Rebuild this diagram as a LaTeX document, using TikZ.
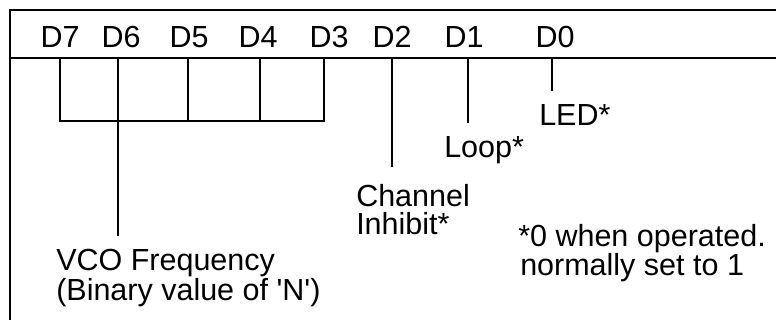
\documentclass[tikz,border=0pt]{standalone}
\usepackage{fontspec}
\setmainfont{Liberation Sans}

\begin{document}
\begin{tikzpicture}[x=1pt, y=-1pt, line width=2.5pt,
  every node/.style={inner sep=0pt, font=\fontsize{30.5}{29}\selectfont},
  bitlabel/.style={anchor=base},
  fieldlabel/.style={anchor=base west, align=left},
  lead/.style={shorten >=#1},
  lead/.default=12pt]
  \useasboundingbox (0,0) rectangle (776,320);
  % frame, open to the right and at the bottom
  \coordinate (frame top left) at (10,10);
  \coordinate (frame top right) at (776,10);
  \coordinate (frame bottom left) at (10,320);
  \coordinate (rule left) at (10,58);
  \coordinate (rule right) at (776,58);
  \draw (frame top right) -- (frame top left) -- (frame bottom left);
  \draw (rule left) -- (rule right);

  % bit names and their taps on the rule
  \foreach \bit/\lx/\tx in {7/60/60, 6/121/118, 5/189/188, 4/258/260,
                            3/329/324, 2/392/392, 1/464/468, 0/555/552} {
    \node[bitlabel] (d\bit) at (\lx,48) {D\bit};
    \coordinate (t\bit) at (\tx,58);
  }

  % D7..D3 joined together
  \coordinate (bracket) at (0,121);
  \draw (t7) -- (t7 |- bracket) -- (t3 |- bracket) -- (t3);
  \foreach \bit in {5,4}
    \draw (t\bit) -- (t\bit |- bracket);

  % what the bits mean (base is the last line)
  \node[fieldlabel] (vco) at (55,300)
    {VCO Frequency\\(Binary value of \textquotesingle N\textquotesingle)};
  \node[fieldlabel, font=\fontsize{30.5}{28}\selectfont] (inhibit) at (355,235) {Channel\\Inhibit*};
  \node[fieldlabel] (loop) at (443,158) {Loop*};
  \node[fieldlabel] (led) at (538,126) {LED*};
  \node[fieldlabel] (note) at (517,276) {*0 when operated.\\\hspace{2pt}normally set to 1};

  \draw[lead] (t6) -- (t6 |- vco.north);
  \draw[lead=17pt] (t2) -- (t2 |- inhibit.north);
  \draw[lead=13pt] (t1) -- (t1 |- loop.north);
  \draw[lead=13pt] (t0) -- (t0 |- led.north);
\end{tikzpicture}
\end{document}
